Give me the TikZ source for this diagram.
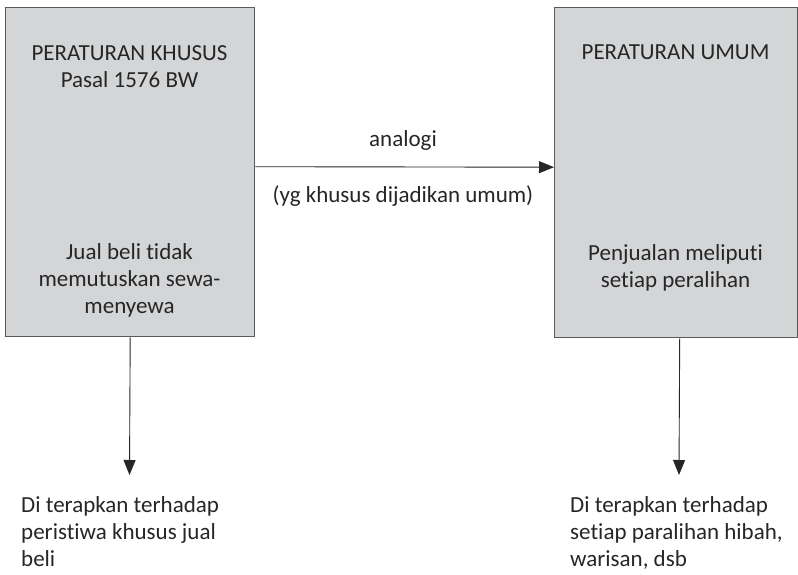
\documentclass[tikz,border=0pt]{standalone}
\usepackage{fontspec}
\setmainfont{Carlito}[RawFeature={-liga,-clig,-dlig}]
\usetikzlibrary{arrows.meta}
\definecolor{boxfill}{RGB}{212,213,215}
\definecolor{boxline}{RGB}{90,90,90}
\definecolor{ink}{RGB}{38,38,38}
\begin{document}
\begin{tikzpicture}[x=1pt,y=-1pt,
  box/.style={draw=boxline, fill=boxfill, line width=1.4pt, inner sep=0pt, anchor=north west},
  lbl/.style={font=\fontsize{23}{27}\selectfont, text=ink, inner sep=0pt},
  arr/.style={-{Triangle[length=15pt,width=12pt]}, line width=0.9pt, draw=ink}]
\useasboundingbox (0,0) rectangle (798,575);

% the two rule boxes
\node[box, minimum width=249pt, minimum height=329pt] (khusus) at (5,7) {};
\node[box, minimum width=243pt, minimum height=330pt] (umum) at (554,7) {};

% texts inside the boxes (base anchor = baseline of the last line)
\node[lbl, align=center, anchor=base] (khususT) at (129.5,87.5) {PERATURAN KHUSUS\\Pasal 1576 BW};
\node[lbl, align=center, anchor=base] (khususB) at (129.5,313) {Jual beli tidak\\memutuskan sewa-\\menyewa};
\node[lbl, align=center, anchor=base] (umumT) at (675.5,60) {PERATURAN UMUM};
\node[lbl, align=center, anchor=base] (umumB) at (675.5,287) {Penjualan meliputi\\setiap peralihan};

% analogy connector
\draw[arr] ([yshift=5.5pt]khusus.east) -- ([yshift=5.5pt]umum.west);
\node[lbl, anchor=base] (analogi) at (403,147) {analogi};
\node[lbl, anchor=base] (ket) at (403,202) {(yg khusus dijadikan umum)};

% application arrows
\coordinate (endL) at (129.5,475);
\coordinate (endR) at (679,475);
\draw[arr] (khusus.south) -- (endL);
\draw[arr] ([xshift=3.5pt]umum.south) -- (endR);

\node[lbl, align=left, anchor=base west] (hasilL) at (21,566) {Di terapkan terhadap\\peristiwa khusus jual\\beli};
\node[lbl, align=left, anchor=base west] (hasilR) at (570,566) {Di terapkan terhadap\\setiap paralihan hibah,\\warisan, dsb};
\end{tikzpicture}
\end{document}
